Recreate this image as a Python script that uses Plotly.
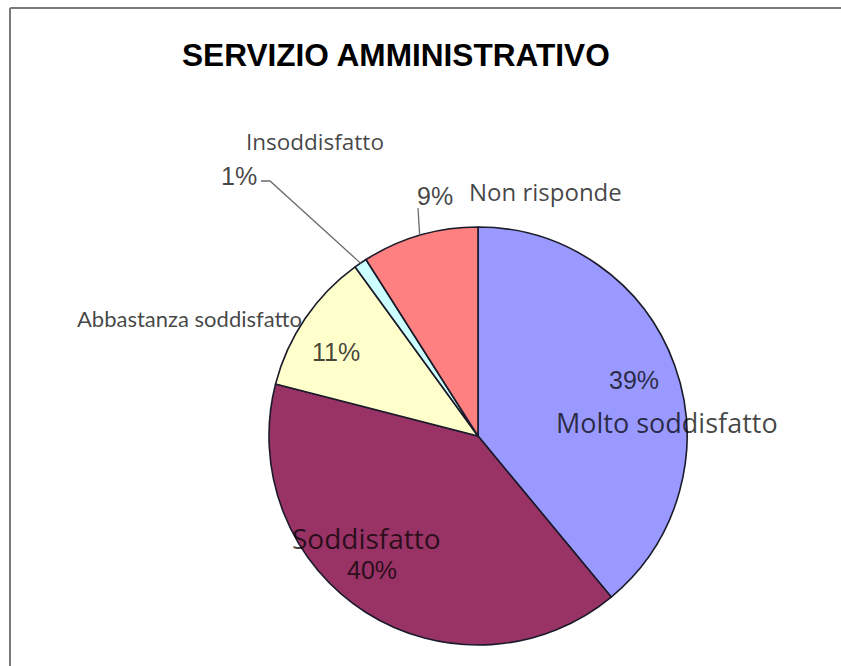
import math
import plotly.graph_objects as go

# Survey results: satisfaction with the administrative service
categories = ["Molto soddisfatto", "Soddisfatto", "Abbastanza soddisfatto",
              "Insoddisfatto", "Non risponde"]
values = [39, 40, 11, 1, 9]
colors = ["#9999FF", "#993366", "#FFFFCC", "#CCFFFF", "#FF8080"]
title_text = "SERVIZIO AMMINISTRATIVO"

W, H = 841, 666
CX, CY, R = 478, 436, 209  # pie centre and radius in pixels


def px(x):
    return x / W


def py(y):
    return 1 - y / H


fig = go.Figure(go.Pie(
    labels=categories,
    values=values,
    marker=dict(colors=colors, line=dict(color="#1a1a2a", width=1.6)),
    sort=False,
    direction="clockwise",
    rotation=0,
    textinfo="none",
    hoverinfo="label+percent",
    showlegend=False,
    domain=dict(x=[px(CX - R), px(CX + R)], y=[py(CY + R), py(CY - R)]),
))

# label placement (pixel centres) for category name and percentage
name_pos = {
    "Molto soddisfatto": (667, 423),
    "Soddisfatto": (366, 538),
    "Abbastanza soddisfatto": (189, 319),
    "Insoddisfatto": (315, 141),
    "Non risponde": (545, 191),
}
name_size = {
    "Molto soddisfatto": 27,
    "Soddisfatto": 28,
    "Abbastanza soddisfatto": 22,
    "Insoddisfatto": 22.5,
    "Non risponde": 24,
}
name_family = {
    "Abbastanza soddisfatto": "Lato, Open Sans",
}
pct_pos = {
    "Molto soddisfatto": (634, 380),
    "Soddisfatto": (372, 570),
    "Abbastanza soddisfatto": (336, 352),
    "Insoddisfatto": (239, 176),
    "Non risponde": (435, 196),
}
# leader-line elbows for the small slices
leader_from = {
    "Insoddisfatto": [(261, 181), (270, 181)],
    "Non risponde": [(418, 208)],
}

total = sum(values)
mid_angle = {}
start = 90.0
for cat, v in zip(categories, values):
    sweep = 360.0 * v / total
    mid_angle[cat] = start - sweep / 2
    start -= sweep

annotations = []
shapes = []
text_col = "rgba(0,0,0,0.74)"

annotations.append(dict(
    text="<b>%s</b>" % title_text, x=px(396), y=py(55), xref="paper", yref="paper",
    showarrow=False, xanchor="center", yanchor="middle",
    font=dict(family="Liberation Sans, Arial", size=31.6, color="#000000"),
))

for cat, v in zip(categories, values):
    nx, ny = name_pos[cat]
    annotations.append(dict(
        text=cat, x=px(nx), y=py(ny), xref="paper", yref="paper",
        showarrow=False, xanchor="center", yanchor="middle",
        font=dict(family=name_family.get(cat, "Open Sans, Noto Sans"),
                  size=name_size[cat], color=text_col),
    ))
    tx, ty = pct_pos[cat]
    annotations.append(dict(
        text="%d%%" % round(100 * v / total), x=px(tx), y=py(ty),
        xref="paper", yref="paper", showarrow=False,
        xanchor="center", yanchor="middle",
        font=dict(family="Liberation Sans, Arial", size=25, color=text_col),
    ))
    if cat in leader_from:
        a = math.radians(mid_angle[cat])
        end = (CX + R * math.cos(a), CY - R * math.sin(a))
        pts = leader_from[cat] + [end]
        path = "M " + " L ".join("%f,%f" % (px(x), py(y)) for x, y in pts)
        shapes.append(dict(type="path", path=path, xref="paper", yref="paper",
                           line=dict(color="#6a6a6a", width=1.3)))

# frame lines along the top and left edges
shapes.append(dict(type="line", xref="paper", yref="paper",
                   x0=px(10), y0=py(8), x1=1, y1=py(8),
                   line=dict(color="#7a7a7a", width=2)))
shapes.append(dict(type="line", xref="paper", yref="paper",
                   x0=px(10), y0=py(8), x1=px(10), y1=0,
                   line=dict(color="#7a7a7a", width=2)))

fig.update_layout(
    width=W, height=H,
    margin=dict(l=0, r=0, t=0, b=0),
    paper_bgcolor="white", plot_bgcolor="white",
    annotations=annotations, shapes=shapes,
)

fig.write_html("out.html")
